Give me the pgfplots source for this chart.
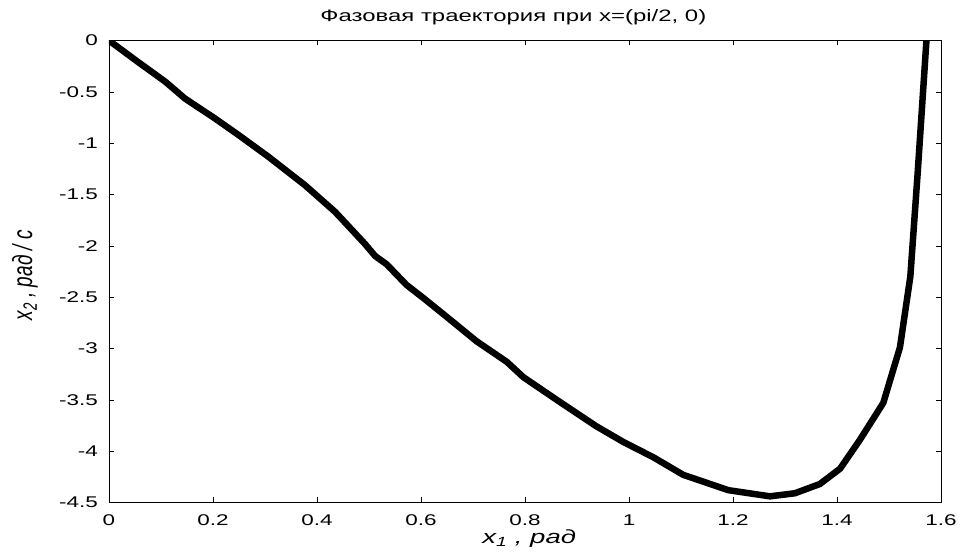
\documentclass[border=0pt]{standalone}
\usepackage{fontspec}
\setmainfont[FakeStretch=1.45]{Liberation Sans}
\newfontfamily\labfont{Liberation Sans}
\usepackage{pgfplots}
\pgfplotsset{compat=1.18}
\usepackage{pgfplotstable}
\pgfplotstableread{
x y
0 0
0.056 -0.21
0.108 -0.40
0.146 -0.565
0.204 -0.76
0.249 -0.92
0.306 -1.13
0.377 -1.41
0.435 -1.67
0.492 -1.98
0.512 -2.10
0.534 -2.18
0.572 -2.38
0.605 -2.51
0.649 -2.69
0.707 -2.93
0.765 -3.13
0.797 -3.28
0.861 -3.50
0.938 -3.76
0.989 -3.91
1.047 -4.06
1.104 -4.23
1.191 -4.38
1.271 -4.44
1.319 -4.41
1.367 -4.32
1.406 -4.17
1.444 -3.89
1.489 -3.53
1.521 -2.99
1.541 -2.30
1.555 -1.30
1.572 0.0
}\traj
\begin{document}
\begin{tikzpicture}
\useasboundingbox (-109pt,-53.5pt) rectangle (852pt,502.5pt);
\begin{axis}[
  scale only axis,
  width=832pt, height=462pt,
  xmin=0, xmax=1.6, ymin=-4.5, ymax=0,
  xtick={0,0.2,0.4,0.6,0.8,1,1.2,1.4,1.6},
  ytick={-4.5,-4,-3.5,-3,-2.5,-2,-1.5,-1,-0.5,0},
  /pgf/number format/assume math mode=true,
  tick align=inside,
  major tick length=5pt,
  tick style={black, line width=0.6pt},
  axis line style={black, line width=0.8pt},
  ticklabel style={font=\fontsize{15.5}{17}\selectfont},
  xticklabel style={inner sep=0pt, anchor=north, yshift=-12pt},
  yticklabel style={inner sep=0pt, anchor=east, xshift=-11pt},
  title={Фазовая траектория при x=(pi/2, 0)},
  title style={font=\fontsize{16.5}{18}\selectfont, at={(axis description cs:0.486,1.0288)}, anchor=base, inner sep=0pt},
  xlabel={\itshape x\textsubscript{1} , рад},
  xlabel style={font=\fontsize{19}{21}\selectfont, at={(axis description cs:0.505,-0.0877)}, anchor=base, inner sep=0pt},
  ylabel={\itshape x\textsubscript{2} , рад / с},
  ylabel style={font=\labfont\fontsize{19}{21}\selectfont, at={(axis description cs:-0.0925,0.492)}, anchor=base, inner sep=0pt, rotate=-90, xscale=1.45, rotate=90},
]
\addplot[black, line width=6.5pt, line join=round] table[x=x,y=y] {\traj};
\end{axis}
\end{tikzpicture}
\end{document}
